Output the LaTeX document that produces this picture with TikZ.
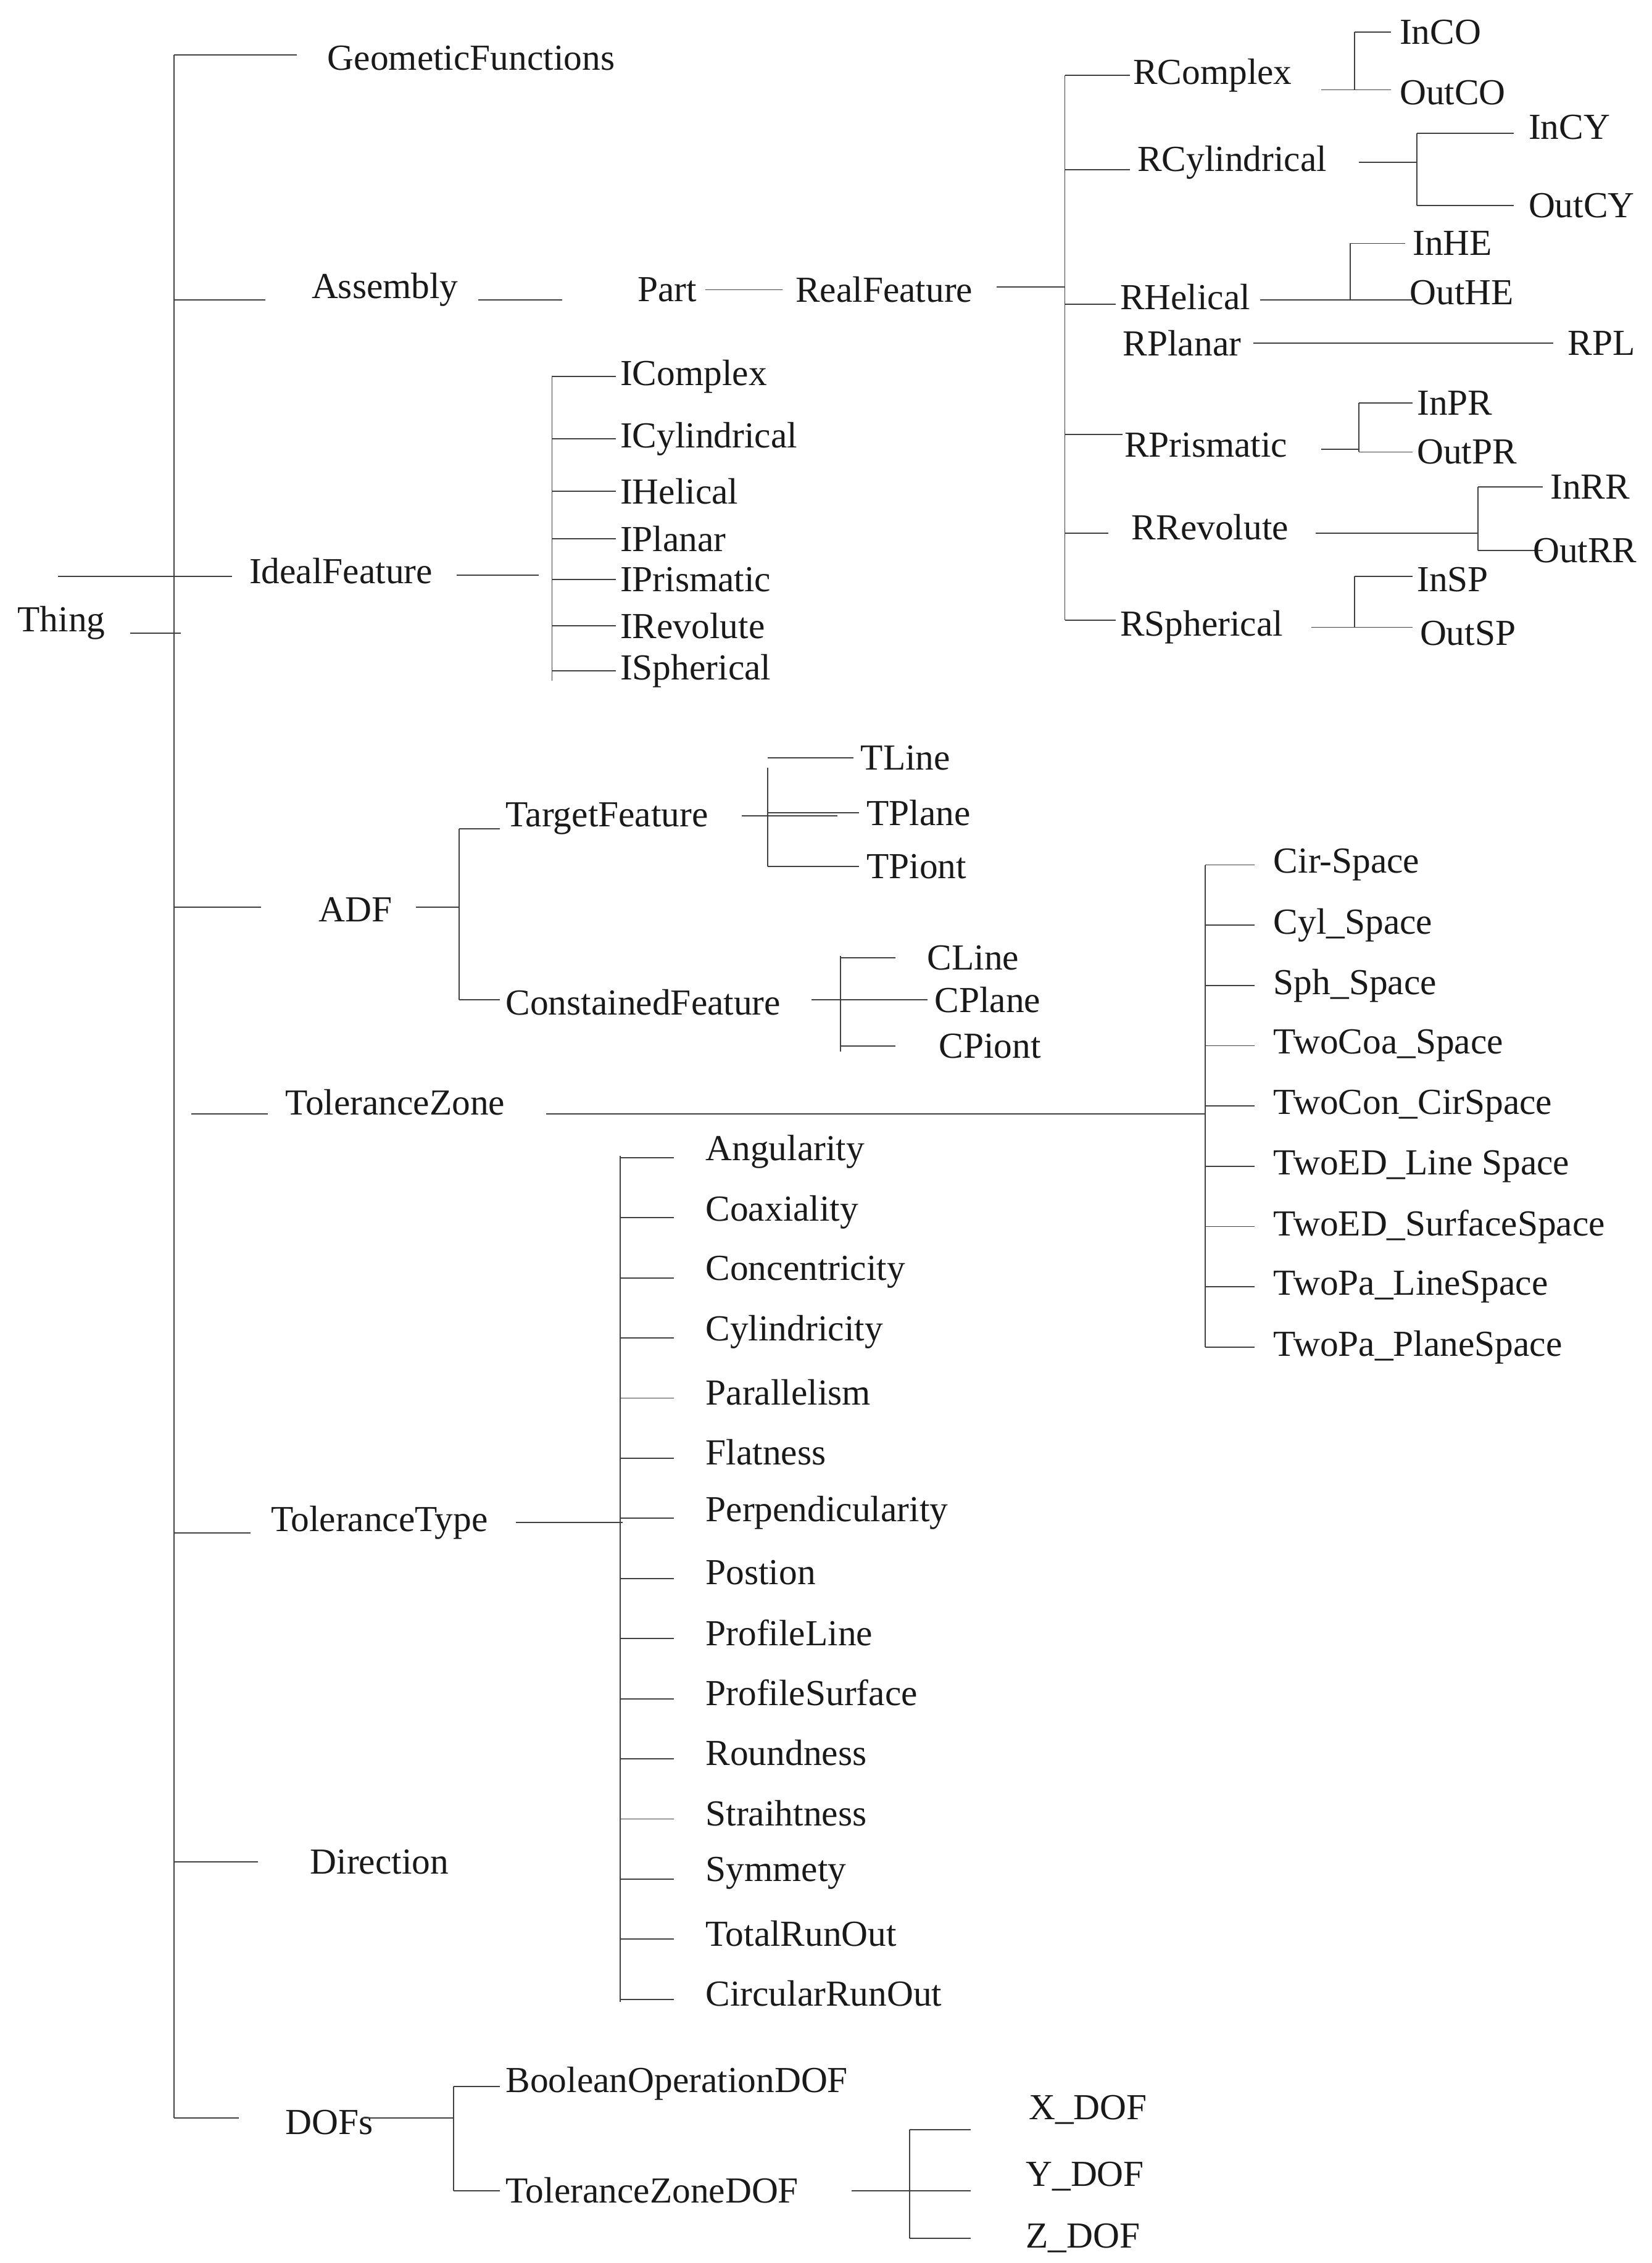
\documentclass[tikz,border=0pt]{standalone}
\usepackage{fontspec}
\setmainfont{Liberation Serif}
\begin{document}
\begin{tikzpicture}[x=0.05cm,y=-0.05cm,
  lbl/.style={anchor=west,inner sep=0pt,font=\fontsize{36}{40}\selectfont,text=black!90},
  ln/.style={draw=black!75,line width=1.1pt}]
\useasboundingbox (0,0) rectangle (1140,1562);
% main
\node[lbl] (thing) at (12,430) {Thing};
\draw[ln] (90,437) -- (125,437);
\draw[ln] (120,38) -- (120,1462);
\node[lbl] (geo) at (226,40) {GeometicFunctions};
\draw[ln] (120,38) -- (205,38);
\node[lbl] (asm) at (215,200) {Assembly};
\draw[ln] (120,207) -- (183,207);
\node[lbl] (ideal) at (172,394) {IdealFeature};
\draw[ln] (40,398) -- (160,398);
\node[lbl] (adf) at (220,628) {ADF};
\draw[ln] (120,626) -- (180,626);
\node[lbl] (tz) at (197,761) {ToleranceZone};
\draw[ln] (132,769) -- (185,769);
\node[lbl] (tt) at (187,1051) {ToleranceType};
\draw[ln] (120,1058) -- (173,1058);
\node[lbl] (dir) at (214,1285) {Direction};
\draw[ln] (120,1285) -- (178,1285);
\node[lbl] (dofs) at (197,1465) {DOFs};
\draw[ln] (120,1462) -- (165,1462);
% Assembly chain
\draw[ln] (330,207) -- (388,207);
\node[lbl] (part) at (440,200) {Part};
\draw[ln] (487,200) -- (540,200);
\node[lbl] (rf) at (549,200) {RealFeature};
\draw[ln] (688,198) -- (735,198);
\draw[ln] (735,52) -- (735,428);
\foreach \n/\t/\x/\y/\ly/\e in {rco/RComplex/782/52/52/780, rcy/RCylindrical/785/112/117/780, rhe/RHelical/773/205/210/770, rpr/RPrismatic/776/307/300/775, rrv/RRevolute/781/364/368/765, rsp/RSpherical/773/433/428/770}{
  \node[lbl] (\n) at (\x,\y) {\t};
  \draw[ln] (735,\ly) -- (\e,\ly);}
\node[lbl] (rpl) at (775,237) {RPlanar};
% R children
\foreach \a/\b/\sx/\ya/\yb/\lx/\ly/\ta/\xa/\tb/\xb/\tya/\tyb/\ea in {
 912/935/935/22/62/912/62/InCO/966/OutCO/966/22/64/960,
 938/978/978/92/142/938/112/InCY/1055/OutCY/1055/88/142/1045,
 870/975/932/168/207/870/207/InHE/975/OutHE/973/168/202/970,
 912/938/938/278/312/912/310/InPR/978/OutPR/978/278/312/975,
 908/1020/1020/336/380/908/368/InRR/1070/OutRR/1058/336/380/1065,
 905/935/935/398/433/905/433/InSP/978/OutSP/980/400/437/975}{
  \draw[ln] (\lx,\ly) -- (\b,\ly);
  \draw[ln] (\sx,\ya) -- (\sx,\yb);
  \draw[ln] (\sx,\ya) -- (\ea,\ya);
  \draw[ln] (\sx,\yb) -- (\ea,\yb);
  \node[lbl] at (\xa,\tya) {\ta};
  \node[lbl] at (\xb,\tyb) {\tb};}
\draw[ln] (865,237) -- (1072,237);
\node[lbl] (rplc) at (1082,237) {RPL};
% Ideal
\draw[ln] (315,397) -- (372,397);
\draw[ln] (381,260) -- (381,470);
\foreach \t/\y in {IComplex/260, ICylindrical/303, IHelical/339, IPlanar/372, IPrismatic/400, IRevolute/432, ISpherical/463}{
  \node[lbl] at (428,\y) {\t};
  \draw[ln] (381,\y) -- (425,\y);}
% ADF
\draw[ln] (287,626) -- (317,626);
\draw[ln] (317,572) -- (317,690);
\node[lbl] (tf) at (349,565) {TargetFeature};
\draw[ln] (317,572) -- (345,572);
\node[lbl] (cf) at (349,692) {ConstainedFeature};
\draw[ln] (317,690) -- (345,690);
\draw[ln] (512,563) -- (578,563);
\draw[ln] (530,530) -- (530,598);
\foreach \t/\x/\y in {TLine/594/523, TPlane/598/561, TPiont/598/598}{
  \node[lbl] at (\x,\y) {\t};
  \draw[ln] (530,\y) -- (\x-5,\y);}
\draw[ln] (560,690) -- (640,690);
\draw[ln] (580,660) -- (580,726);
\foreach \t/\x/\y in {CLine/640/661, CPlane/645/690, CPiont/648/722}{
  \node[lbl] at (\x,\y) {\t};
  \draw[ln] (580,\y) -- (618,\y);}
% Tolerance zone
\draw[ln] (377,769) -- (832,769);
\draw[ln] (832,597) -- (832,930);
\foreach \t [count=\i from 0] in {Cir-Space, Cyl\_Space, Sph\_Space, TwoCoa\_Space, TwoCon\_CirSpace, TwoED\_Line Space, TwoED\_SurfaceSpace, TwoPa\_LineSpace, TwoPa\_PlaneSpace}{
  \node[lbl] at (879,597+41.6*\i) {\t};
  \draw[ln] (832,597+41.6*\i) -- (866,597+41.6*\i);}
% Tolerance type
\draw[ln] (356,1051) -- (430,1051);
\draw[ln] (428,798) -- (428,1382);
\foreach \t [count=\i from 0] in {Angularity, Coaxiality, Concentricity, Cylindricity, Parallelism, Flatness, Perpendicularity, Postion, ProfileLine, ProfileSurface, Roundness, Straihtness, Symmety, TotalRunOut, CircularRunOut}{
  \node[lbl] at (487,795+41.5*\i) {\t};
  \draw[ln] (428,799+41.5*\i) -- (465,799+41.5*\i);}
% DOFs
\draw[ln] (250,1462) -- (313,1462);
\draw[ln] (313,1440) -- (313,1512);
\node[lbl] (bo) at (349,1438) {BooleanOperationDOF};
\draw[ln] (313,1440) -- (345,1440);
\node[lbl] (tzd) at (349,1512) {ToleranceZoneDOF};
\draw[ln] (313,1512) -- (345,1512);
\draw[ln] (588,1512) -- (628,1512);
\draw[ln] (628,1470) -- (628,1545);
\foreach \t/\x/\y/\ly in {X\_DOF/710/1456/1470, Y\_DOF/708/1502/1512, Z\_DOF/708/1545/1545}{
  \node[lbl] at (\x,\y) {\t};
  \draw[ln] (628,\ly) -- (670,\ly);}
\end{tikzpicture}
\end{document}
